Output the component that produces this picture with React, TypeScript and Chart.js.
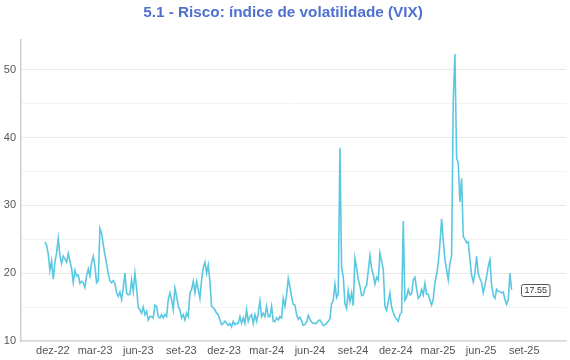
import { useEffect, useRef } from "react";
import { Chart, registerables } from "chart.js";

Chart.register(...registerables);

const titleText = "5.1 - Risco: índice de volatilidade (VIX)";

// Evenly spaced samples of the VIX close, from firstDate to lastDate
const firstDate = "2022-11-14";
const lastDate = "2025-08-05";

const vix2022 = [24.6, 24.1, 22.8, 20.4, 21.8, 19.1, 21.6, 23.0, 25.1, 22.6, 21.4, 22.5, 22.1, 21.6];

const vix2023 = [
  22.9, 21.8, 20.7, 18.6, 20.4, 19.6, 19.7, 18.5, 18.8, 18.6, 17.9, 19.6, 20.6, 19.6, 21.6, 22.5,
  21.0, 18.6, 18.9, 26.6, 25.9, 24.2, 22.7, 21.4, 19.9, 18.9, 18.6, 18.9, 18.5, 17.1, 16.6, 17.2,
  16.1, 17.8, 20.0, 17.1, 16.8, 16.9, 19.0, 17.3, 20.0, 17.8, 14.9, 14.6, 14.1, 15.0, 13.9, 14.4,
  13.1, 13.6, 13.6, 13.4, 15.3, 15.1, 13.6, 13.4, 13.9, 13.4, 13.9, 13.6, 16.1, 17.1, 16.1, 14.6,
  17.8, 16.6, 15.1, 14.6, 13.4, 13.9, 13.1, 14.1, 13.6, 17.1, 17.6, 18.8, 17.1, 18.8, 17.6, 16.3,
  19.0, 20.8, 21.6, 20.0, 21.2, 18.8, 15.1, 14.9, 14.6, 14.1, 13.9, 13.1, 12.4, 12.6, 12.9, 12.6,
  12.3, 12.6, 12.1, 12.9, 12.4, 12.6, 12.6,
];

const vix2024 = [
  13.6, 12.6, 13.4, 12.6, 14.6, 12.9, 13.6, 13.9, 12.6, 13.9, 12.9, 14.1, 15.9, 13.6, 14.1, 13.6,
  15.1, 13.6, 13.6, 15.1, 12.9, 12.9, 13.4, 13.1, 13.6, 13.4, 16.3, 15.1, 16.8, 19.2, 18.0, 16.5,
  15.4, 15.3, 13.9, 13.2, 13.5, 13.0, 12.3, 12.4, 12.8, 13.8, 13.2, 12.8, 12.6, 12.6, 12.6, 13.0,
  13.1, 12.7, 12.3, 12.4, 12.6, 12.9, 13.3, 15.5, 16.0, 18.4, 16.4, 17.0, 38.5, 20.8, 19.5, 15.5,
  14.8, 17.4, 15.8, 17.1, 15.2, 22.2, 20.8, 19.1, 18.1, 16.7, 16.8, 17.8, 18.2, 20.3, 22.6, 20.7,
  19.8, 18.4, 19.4, 19.0, 23.0, 21.8, 20.6, 15.1, 14.5, 15.8, 17.1, 15.0, 14.2, 13.6, 13.2, 12.9,
  13.9, 14.2, 27.7, 16.0, 16.5, 17.6, 16.8,
];

const vix2025 = [
  17.0, 19.0, 19.4, 17.7, 16.3, 16.6, 17.6, 16.8, 18.5, 16.9, 16.9, 16.0, 15.3, 16.2, 18.6, 19.8,
  21.5, 24.3, 28.0, 24.9, 22.0, 20.5, 19.0, 21.5, 22.5, 45.5, 52.3, 37.0, 36.2, 30.5, 34.0, 25.4,
  25.0, 24.5, 24.6, 22.0, 19.7, 18.7, 20.0, 22.5, 19.9, 19.2, 18.6, 17.1, 18.2, 19.5, 21.0, 22.0,
  18.3, 16.7, 16.3, 17.6, 17.3, 17.3, 17.1, 17.2, 16.1, 15.4, 16.1, 20.0, 17.55,
];

const xTickDates = [
  "2022-12-01", "2023-03-01", "2023-06-01", "2023-09-01", "2023-12-01", "2024-03-01",
  "2024-06-01", "2024-09-01", "2024-12-01", "2025-03-01", "2025-06-01", "2025-09-01",
];
const xTickLabels = [
  "dez-22", "mar-23", "jun-23", "set-23", "dez-23", "mar-24",
  "jun-24", "set-24", "dez-24", "mar-25", "jun-25", "set-25",
];
const axisMinDate = "2022-09-24";
const axisMaxDate = "2025-11-29";

const yTicks = [10, 15, 20, 25, 30, 35, 40, 45, 50];
const yLabelTicks = [10, 20, 30, 40, 50];
const yMin = 10;
const yMax = 54.4;

const lastLabel = "17.55";

const FONT = "'Liberation Sans', Arial, Helvetica, sans-serif";

export default function App() {
  const ref = useRef<HTMLCanvasElement>(null);

  useEffect(() => {
    const canvas = ref.current;
    if (!canvas) return;
    const values = [...vix2022, ...vix2023, ...vix2024, ...vix2025];
    const t0 = Date.parse(firstDate);
    const t1 = Date.parse(lastDate);
    const data = values.map((y, i) => ({ x: t0 + ((t1 - t0) * i) / (values.length - 1), y }));

    const lastValuePlugin = {
      id: "lastValue",
      afterDatasetsDraw(chart: any) {
        const meta = chart.getDatasetMeta(0);
        const pt = meta.data[meta.data.length - 1];
        if (!pt) return;
        const ctx = chart.ctx;
        ctx.save();
        ctx.font = `9px ${FONT}`;
        const w = ctx.measureText(lastLabel).width + 6;
        const h = 12;
        const bx = Math.round(pt.x + 9) + 0.5;
        const by = Math.round(pt.y - h / 2) + 0.5;
        ctx.beginPath();
        ctx.roundRect(bx, by, w, h, 2);
        ctx.fillStyle = "#ffffff";
        ctx.fill();
        ctx.strokeStyle = "#555555";
        ctx.lineWidth = 1;
        ctx.stroke();
        ctx.fillStyle = "#333333";
        ctx.textAlign = "left";
        ctx.textBaseline = "middle";
        ctx.fillText(lastLabel, bx + 3, by + h / 2 + 0.5);
        ctx.restore();
      },
    };

    const chart = new Chart(canvas, {
      type: "line",
      data: {
        datasets: [
          {
            data,
            borderColor: "#5ac8e1",
            borderWidth: 1.6,
            pointRadius: 0,
            tension: 0,
            fill: false,
          },
        ],
      },
      options: {
        responsive: false,
        animation: false,
        devicePixelRatio: 1,
        layout: { padding: { top: 0, right: 4, bottom: 0, left: 0 } },
        plugins: {
          legend: { display: false },
          tooltip: { enabled: false },
          title: {
            display: true,
            text: titleText,
            color: "#4f70cf",
            font: { size: 15.3, weight: "bold", family: FONT },
            padding: { top: 3.5, bottom: 18 },
          },
        },
        scales: {
          x: {
            type: "linear",
            min: Date.parse(axisMinDate),
            max: Date.parse(axisMaxDate),
            afterBuildTicks: (scale: any) => {
              scale.ticks = xTickDates.map((d) => ({ value: Date.parse(d) }));
            },
            afterFit: (scale: any) => {
              scale.height = 19;
            },
            ticks: {
              autoSkip: false,
              maxRotation: 0,
              minRotation: 0,
              padding: 3,
              color: "#555555",
              font: { size: 11, family: FONT },
              callback: (_v: any, i: number) => xTickLabels[i],
            },
            grid: { display: false, drawTicks: false },
            border: { display: true, color: "#d9d9d9", width: 1.5 },
          },
          y: {
            type: "linear",
            min: yMin,
            max: yMax,
            afterBuildTicks: (scale: any) => {
              scale.ticks = yTicks.map((v) => ({ value: v }));
            },
            afterFit: (scale: any) => {
              scale.width = 21;
            },
            ticks: {
              padding: 5,
              color: "#555555",
              font: { size: 11, family: FONT },
              callback: (v: any) => (yLabelTicks.includes(Number(v)) ? String(v) : ""),
            },
            grid: {
              drawTicks: false,
              color: (c: any) =>
                c.tick && yLabelTicks.includes(c.tick.value) ? "#e8e8e8" : "#f3f3f3",
              lineWidth: 1,
            },
            border: { display: true, color: "#d0d0d0", width: 1.5 },
          },
        },
      },
      plugins: [lastValuePlugin],
    });

    return () => chart.destroy();
  }, []);

  return (
    <div style={{ position: "absolute", left: 0, top: 0, width: 570, height: 360, background: "#fff" }}>
      <canvas ref={ref} width={570} height={360} style={{ display: "block" }} />
    </div>
  );
}
